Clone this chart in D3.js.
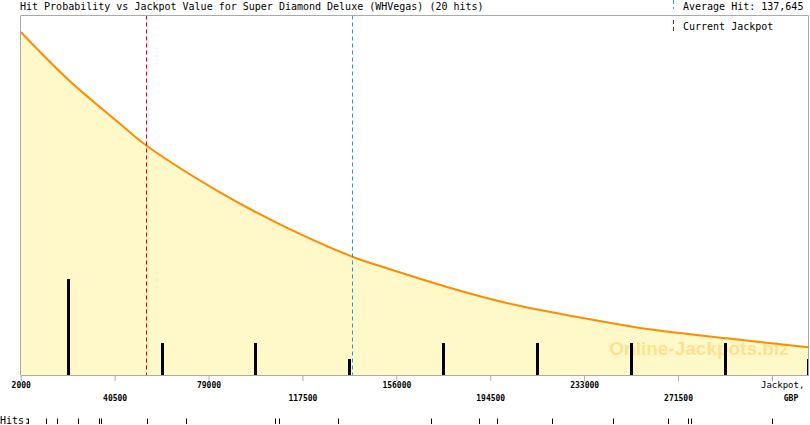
<!DOCTYPE html>
<html>
<head>
<meta charset="utf-8">
<script src="https://cdn.jsdelivr.net/npm/d3@7"></script>
<style>
  body { margin: 0; background: #fff; }
  text { font-family: "DejaVu Sans Mono", monospace; }
</style>
</head>
<body>
<div class="probGraph"></div>
<script>
// jackpot values (GBP) and relative hit probability
let curveJackpot = [2000, 22200, 42700, 53400, 83700, 108300, 138000, 149300, 176700, 204000, 231300, 255900, 291500, 324900];
let curveProb = [95.4, 81.7, 69.9, 63.9, 50.8, 41.9, 32.9, 30.3, 24.5, 19.6, 16.0, 13.1, 10.2, 7.7];

// histogram bins (bin centres) and hit counts
let binCentres = [21250, 59750, 98250, 136750, 175250, 213750, 252250, 290750, 329250];
let binHits = [6, 2, 2, 1, 2, 2, 2, 2, 1];

// individual hit values shown on the "Hits:" strip
let hitValues = [5000, 12400, 16800, 25600, 34100, 34800, 53900, 69900, 106100, 107800,
  132000, 170300, 189900, 197400, 219900, 244700, 267500, 275700, 276700, 310200];

let tickValues = [2000, 40500, 79000, 117500, 156000, 194500, 233000, 271500, 310000];
let averageHit = 137645;
let currentJackpot = 53500;
let titleText = 'Hit Probability vs Jackpot Value for Super Diamond Deluxe (WHVegas) (20 hits)';

function drawProbChart(d3) {

  let width = 810;
  let height = 425;
  let plot = { left: 20.7, right: 808.3, top: 15.5, bottom: 375 };

  let svg = d3.select('.probGraph')
    .append('svg')
    .attr('width', width)
    .attr('height', height);

  let xScale = d3.scaleLinear()
    .domain([2000, 324900])
    .range([plot.left, plot.right])
    .clamp(true);

  let yScale = d3.scaleLinear()
    .domain([0, 100])
    .range([plot.bottom, plot.top]);

  // 16px per hit
  let hitScale = d3.scaleLinear()
    .domain([0, (plot.bottom - plot.top) / 16])
    .range([plot.bottom, plot.top]);

  let px = function(v) { return Math.round(xScale(v)) + 0.5; };

  let curveData = curveJackpot.map(function(v, i) { return { x: v, y: curveProb[i] }; });

  svg.append('clipPath').attr('id', 'plotClip')
    .append('rect')
    .attr('x', plot.left).attr('y', plot.top)
    .attr('width', plot.right - plot.left).attr('height', plot.bottom - plot.top);

  let g = svg.append('g').attr('clip-path', 'url(#plotClip)');

  g.append('path')
    .datum(curveData)
    .attr('fill', '#fff8c8')
    .attr('d', d3.area()
      .x(function(d) { return xScale(d.x); })
      .y0(plot.bottom)
      .y1(function(d) { return yScale(d.y); })
      .curve(d3.curveCatmullRom.alpha(0.5)));

  // watermark
  g.append('text')
    .attr('x', 699)
    .attr('y', 355)
    .attr('text-anchor', 'middle')
    .style('font-family', '"Liberation Sans", Arial, sans-serif')
    .style('font-weight', 'bold')
    .style('font-size', '19px')
    .attr('fill', '#ffa500')
    .attr('fill-opacity', 0.3)
    .text('Online-Jackpots.biz');

  g.append('path')
    .datum(curveData)
    .attr('fill', 'none')
    .attr('stroke', '#ff8c00')
    .attr('stroke-width', 2)
    .attr('d', d3.line()
      .x(function(d) { return xScale(d.x); })
      .y(function(d) { return yScale(d.y); })
      .curve(d3.curveCatmullRom.alpha(0.5)));

  g.selectAll('.bar')
    .data(binCentres)
    .enter().append('rect')
    .attr('class', 'bar')
    .attr('x', function(d) { return Math.round(xScale(d)) - 1; })
    .attr('y', function(d, i) { return hitScale(binHits[i]); })
    .attr('width', 3)
    .attr('height', function(d, i) { return plot.bottom - hitScale(binHits[i]); })
    .attr('fill', '#000');

  // current jackpot and average hit markers
  g.append('line')
    .attr('x1', px(currentJackpot)).attr('x2', px(currentJackpot))
    .attr('y1', plot.top).attr('y2', plot.bottom)
    .attr('stroke', '#e00000')
    .attr('stroke-dasharray', '4,3');

  g.append('line')
    .attr('x1', px(averageHit)).attr('x2', px(averageHit))
    .attr('y1', plot.top).attr('y2', plot.bottom)
    .attr('stroke', '#1f9be0')
    .attr('stroke-dasharray', '4,3');

  // frame (left, top, right)
  svg.append('path')
    .attr('d', 'M20.5,' + plot.bottom + 'V15.5H808.5V' + plot.bottom)
    .attr('fill', 'none')
    .attr('stroke', '#aaaaaa');

  // x axis
  let axis = svg.append('g')
    .attr('class', 'axis axis--x')
    .attr('transform', 'translate(0,' + plot.bottom + ')')
    .call(d3.axisBottom(xScale)
      .tickValues(tickValues)
      .tickSize(6)
      .tickSizeOuter(0)
      .tickFormat(function(d, i) { return i === tickValues.length - 1 ? '' : d; }));

  axis.select('.domain').attr('stroke', '#aaaaaa');
  axis.selectAll('.tick line').attr('stroke', '#aaaaaa');
  axis.selectAll('.tick text')
    .attr('y', function(d, i) { return i % 2 === 0 ? 13 : 26; })
    .attr('dy', 0)
    .attr('fill', '#000')
    .style('font-family', '"DejaVu Sans Mono", monospace')
    .style('font-size', '8px')
    .style('font-weight', 'bold');

  svg.append('text')
    .attr('x', 761)
    .attr('y', 388)
    .style('font-size', '9px')
    .text('Jackpot,');

  svg.append('text')
    .attr('x', 791)
    .attr('y', 401)
    .attr('text-anchor', 'middle')
    .style('font-size', '8px')
    .style('font-weight', 'bold')
    .text('GBP');

  // title and legend
  svg.append('text')
    .attr('x', 20)
    .attr('y', 10)
    .style('font-size', '10px')
    .text(titleText);

  svg.append('line')
    .attr('x1', 673.5).attr('x2', 673.5)
    .attr('y1', 0).attr('y2', 9)
    .attr('stroke', '#1f9be0')
    .attr('stroke-dasharray', '4,3');

  svg.append('text')
    .attr('x', 683)
    .attr('y', 10)
    .style('font-size', '10px')
    .text('Average Hit: ' + d3.format(',')(averageHit));

  svg.append('line')
    .attr('x1', 673.5).attr('x2', 673.5)
    .attr('y1', 20).attr('y2', 34)
    .attr('stroke', '#e00000')
    .attr('stroke-dasharray', '4,3');

  svg.append('text')
    .attr('x', 683)
    .attr('y', 30)
    .style('font-size', '10px')
    .text('Current Jackpot');

  // hits strip
  svg.append('text')
    .attr('x', 0)
    .attr('y', 424)
    .style('font-size', '10px')
    .text('Hits:');

  svg.selectAll('.hit')
    .data(hitValues)
    .enter().append('line')
    .attr('class', 'hit')
    .attr('x1', px)
    .attr('x2', px)
    .attr('y1', 418.5)
    .attr('y2', 424)
    .attr('stroke', '#000');
}

drawProbChart(d3);
</script>
</body>
</html>
